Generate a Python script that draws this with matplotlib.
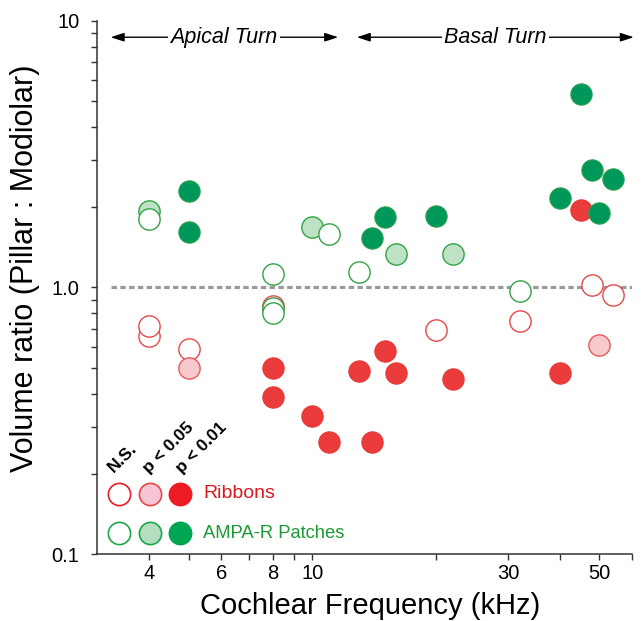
import matplotlib
matplotlib.use("Agg")
import matplotlib.pyplot as plt
from matplotlib.ticker import FixedLocator, FixedFormatter, NullFormatter, NullLocator
from matplotlib.transforms import blended_transform_factory

plt.rcParams['font.family'] = ['Liberation Sans', 'DejaVu Sans']

# ---------------- data ----------------
rib_ns_x = [4, 4, 5, 8, 20, 32, 48, 54]
rib_ns_y = [0.66, 0.72, 0.59, 0.85, 0.69, 0.75, 1.02, 0.94]
rib_p05_x = [5, 50]
rib_p05_y = [0.50, 0.61]
rib_p01_x = [8, 8, 10, 11, 13, 14, 15, 16, 22, 40, 45]
rib_p01_y = [0.50, 0.39, 0.33, 0.263, 0.485, 0.263, 0.578, 0.48, 0.454, 0.478, 1.95]

amp_ns_x = [4, 8, 8, 8, 11, 13, 32]
amp_ns_y = [1.81, 1.125, 0.84, 0.805, 1.586, 1.143, 0.97]
amp_p05_x = [4, 10, 16, 22]
amp_p05_y = [1.94, 1.68, 1.334, 1.334]
amp_p01_x = [5, 5, 14, 15, 20, 40, 45, 48, 50, 54]
amp_p01_y = [2.30, 1.62, 1.532, 1.833, 1.857, 2.16, 5.33, 2.76, 1.90, 2.55]

x_ticks = [4, 5, 6, 7, 8, 9, 10, 20, 30, 40, 50, 60]
x_tick_labels = ['4', '', '6', '', '8', '', '10', '', '30', '', '50', '']
y_ticks = [0.1, 1.0, 10]
y_tick_labels = ['0.1', '1.0', '10']
y_minor = [0.2, 0.3, 0.4, 0.5, 0.6, 0.7, 0.8, 0.9, 2, 3, 4, 5, 6, 7, 8, 9]

regions = ['Apical Turn', 'Basal Turn']
region_left = [3.23, 12.83]
region_right = [11.56, 60.6]
region_center = [6.1, 27.9]

sig_labels = ['N.S.', 'p < 0.05', 'p < 0.01']
legend_names = ['Ribbons', 'AMPA-R Patches']

# ---------------- style ----------------
RED = '#EB3B3B'
RED_EDGE = '#E8474A'
PINK = '#F8C9CC'
GREEN_DARK = '#00985A'
GREEN_LIGHT = '#BFE2C6'
GREEN_EDGE = '#33A346'
S = 235

fig = plt.figure(figsize=(6.41, 6.21), dpi=100)
ax = fig.add_axes([0.1521, 0.1074, 0.986 - 0.1521, 0.9667 - 0.1074])
ax.set_xscale('log')
ax.set_yscale('log')
ax.set_xlim(3, 60)
ax.set_ylim(0.1, 10)

# reference line
ax.plot([3.23, 60], [1.0, 1.0], color='#9A9A9A', lw=2.3,
        linestyle=(0, (1.7, 1.05)), zorder=1, solid_capstyle='butt')

# data points
ax.scatter(rib_ns_x, rib_ns_y, s=S, facecolor='white', edgecolor=RED_EDGE, lw=1.0, zorder=3)
ax.scatter(rib_p05_x, rib_p05_y, s=S, facecolor=PINK, edgecolor='#E45A5E', lw=1.0, zorder=3)
ax.scatter(rib_p01_x, rib_p01_y, s=S, facecolor=RED, edgecolor='#E83636', lw=0.8, zorder=3)
ax.scatter(amp_p05_x, amp_p05_y, s=S, facecolor=GREEN_LIGHT, edgecolor=GREEN_EDGE, lw=1.0, zorder=4)
ax.scatter(amp_ns_x, amp_ns_y, s=S, facecolor='white', edgecolor=GREEN_EDGE, lw=1.0, zorder=4)
ax.scatter(amp_p01_x, amp_p01_y, s=S, facecolor=GREEN_DARK, edgecolor='#2C9F4E', lw=0.8, zorder=4)

# axes styling
for sp in ['top', 'right']:
    ax.spines[sp].set_visible(False)
for sp in ['left', 'bottom']:
    ax.spines[sp].set_linewidth(1.1)
    ax.spines[sp].set_color('#333333')

ax.xaxis.set_major_locator(FixedLocator(x_ticks))
ax.xaxis.set_major_formatter(FixedFormatter(x_tick_labels))
ax.xaxis.set_minor_locator(NullLocator())
ax.xaxis.set_minor_formatter(NullFormatter())
ax.yaxis.set_major_locator(FixedLocator(y_ticks))
ax.yaxis.set_major_formatter(FixedFormatter(y_tick_labels))
ax.yaxis.set_minor_locator(FixedLocator(y_minor))
ax.yaxis.set_minor_formatter(NullFormatter())
ax.tick_params(axis='x', which='major', length=4, width=1.0, color='#333333',
               labelsize=14.5, pad=3)
ax.tick_params(axis='y', which='major', length=4, width=1.0, color='#333333',
               labelsize=14.5, pad=9)
ax.tick_params(axis='y', which='minor', length=4, width=1.0, color='#333333')

ax.set_xlabel('Cochlear Frequency (kHz)', fontsize=21)
ax.xaxis.set_label_coords(0.51, -0.097)
ax.xaxis.label.set_va('center')
ax.set_ylabel('Volume ratio (Pillar : Modiolar)', fontsize=22)
ax.yaxis.set_label_coords(-0.1356, 0.5366)
ax.yaxis.label.set_va('center')

# region arrows
tr = blended_transform_factory(ax.transData, ax.transAxes)
for name, xl, xr, xc in zip(regions, region_left, region_right, region_center):
    ax.annotate('', xy=(xl, 0.969), xytext=(xr, 0.969), xycoords=tr, textcoords=tr,
                arrowprops=dict(arrowstyle='<|-|>,head_length=0.8,head_width=0.26',
                                color='black', lw=1.0, shrinkA=0, shrinkB=0),
                annotation_clip=False, zorder=5)
    ax.text(xc, 0.969, name, transform=tr, ha='center', va='center', fontsize=15.5,
            style='italic', zorder=6,
            bbox=dict(facecolor='white', edgecolor='none', pad=1.5))

# custom legend (figure pixel coords -> fraction)
W, H = 641.0, 621.0
def fx(px):
    return px / W
def fy(py):
    return 1 - py / H

col_x = [119.3, 150.0, 180.0]
row_y = [494.0, 533.3]
leg_styles = [
    [dict(facecolor='white', edgecolor='#ED1C24'),
     dict(facecolor='#F6C4D4', edgecolor='#E8474A'),
     dict(facecolor='#ED1C24', edgecolor='#ED1C24')],
    [dict(facecolor='white', edgecolor='#1FA64A'),
     dict(facecolor='#B5DDBF', edgecolor='#1FA64A'),
     dict(facecolor='#00A651', edgecolor='#00A651')],
]
for r, yy in enumerate(row_y):
    for c, xx in enumerate(col_x):
        fig.add_artist(plt.Line2D([fx(xx)], [fy(yy)], marker='o', markersize=16,
                                  markeredgewidth=1.2, linestyle='none',
                                  markerfacecolor=leg_styles[r][c]['facecolor'],
                                  markeredgecolor=leg_styles[r][c]['edgecolor'],
                                  transform=fig.transFigure))
fig.text(fx(203), fy(494), legend_names[0], color='#D9191F', fontsize=14,
         ha='left', va='center')
fig.text(fx(203), fy(533.3), legend_names[1], color='#1A9A35', fontsize=13.2,
         ha='left', va='center')

lab_pos = [(114, 473), (149, 474), (182, 474)]
for lab, (px, py) in zip(sig_labels, lab_pos):
    fig.text(fx(px), fy(py), lab, rotation=45, rotation_mode='anchor',
             ha='left', va='baseline', fontsize=12.5, fontweight='bold')

fig.savefig('out.png', dpi=100)
